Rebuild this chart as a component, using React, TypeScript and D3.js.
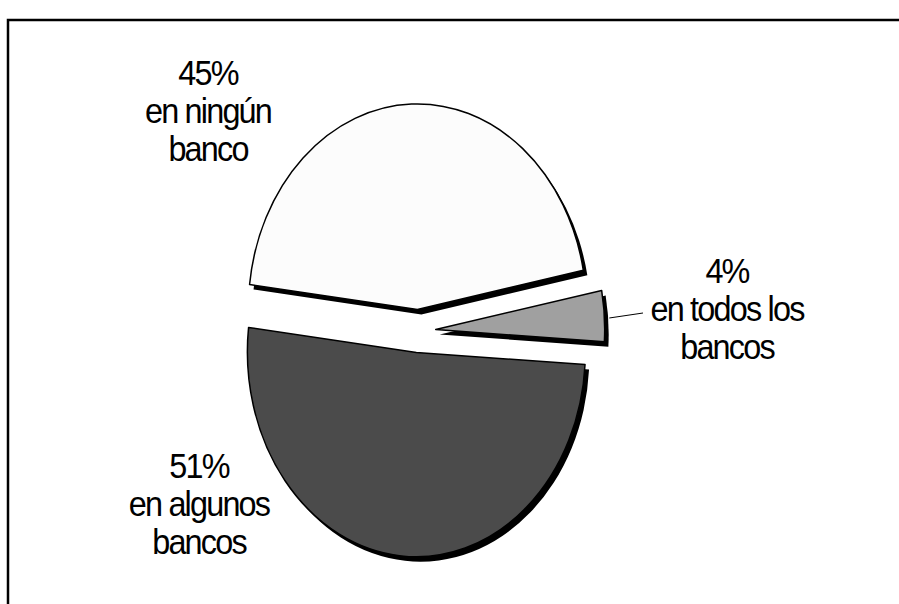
import React, { useEffect, useRef } from 'react';
import * as d3 from 'd3';

const categories = ['en ningún banco', 'en todos los bancos', 'en algunos bancos'];
const values = [45, 4, 51];
const labelLines = [
  ['45%', 'en ningún', 'banco'],
  ['4%', 'en todos los', 'bancos'],
  ['51%', 'en algunos', 'bancos'],
];
const fills = ['#fcfcfc', '#a0a0a0', '#4b4b4b'];

export default function App() {
  const ref = useRef<SVGSVGElement>(null);

  useEffect(() => {
    if (!ref.current) return;
    const svg = d3.select(ref.current);
    svg.selectAll('*').remove();

    const cx = 418;
    const cy = 331;
    const rx = 169;
    const ry = 205;
    const explode = 0.105;
    const start = (-83 * Math.PI) / 180;

    // frame: the chart area runs past the right and bottom of the picture
    svg.append('rect')
      .attr('x', 8).attr('y', 20)
      .attr('width', 1200).attr('height', 1200)
      .attr('fill', 'white')
      .attr('stroke', 'black')
      .attr('stroke-width', 2.5);

    const data = categories.map((c, i) => ({ category: c, value: values[i], i }));
    const pie = d3.pie<any>().sort(null).value(d => d.value)
      .startAngle(start).endAngle(start + 2 * Math.PI);
    const arcs = pie(data);

    const arc = d3.arc<any>().innerRadius(0).outerRadius(1);

    const offset = (d: any) => {
      const m = (d.startAngle + d.endAngle) / 2;
      return [cx + explode * rx * Math.sin(m), cy - explode * ry * Math.cos(m)];
    };

    // shadows first
    svg.append('g').selectAll('path')
      .data(arcs)
      .enter()
      .append('path')
      .attr('d', arc)
      .attr('transform', d => {
        const [x, y] = offset(d);
        return `translate(${x + 4},${y + 5}) scale(${rx},${ry})`;
      })
      .attr('fill', 'black');

    svg.append('g').selectAll('path')
      .data(arcs)
      .enter()
      .append('path')
      .attr('d', arc)
      .attr('transform', d => {
        const [x, y] = offset(d);
        return `translate(${x},${y}) scale(${rx},${ry})`;
      })
      .attr('fill', d => fills[d.data.i])
      .attr('stroke', 'black')
      .attr('stroke-width', 1.5)
      .attr('stroke-linejoin', 'round')
      .attr('vector-effect', 'non-scaling-stroke');

    // leader line for the small slice
    const g = arcs[1];
    const [gx, gy] = offset(g);
    const gm = (g.startAngle + g.endAngle) / 2;
    svg.append('line')
      .attr('x1', gx + rx * Math.sin(gm) + 5)
      .attr('y1', gy - ry * Math.cos(gm) + 2)
      .attr('x2', 643)
      .attr('y2', 313)
      .attr('stroke', 'black')
      .attr('stroke-width', 1);

    // labels (condensed, as in the original)
    const labelPos = [
      { x: 208, y: 85 },
      { x: 727, y: 283 },
      { x: 199, y: 478 },
    ];
    labelLines.forEach((lines, i) => {
      const t = svg.append('text')
        .attr('transform', `translate(${labelPos[i].x},${labelPos[i].y}) scale(0.9,1)`)
        .attr('text-anchor', 'middle')
        .style('font-family', '"Liberation Sans", Arial, sans-serif')
        .style('font-size', '36px')
        .style('letter-spacing', '-2px')
        .attr('fill', 'black');
      lines.forEach((line, j) => {
        t.append('tspan')
          .attr('x', 0)
          .attr('y', j * 38)
          .text(line);
      });
    });
  }, []);

  return (
    <svg
      ref={ref}
      width={899}
      height={604}
      style={{ position: 'absolute', left: 0, top: 0, background: 'white', overflow: 'hidden' }}
    />
  );
}
